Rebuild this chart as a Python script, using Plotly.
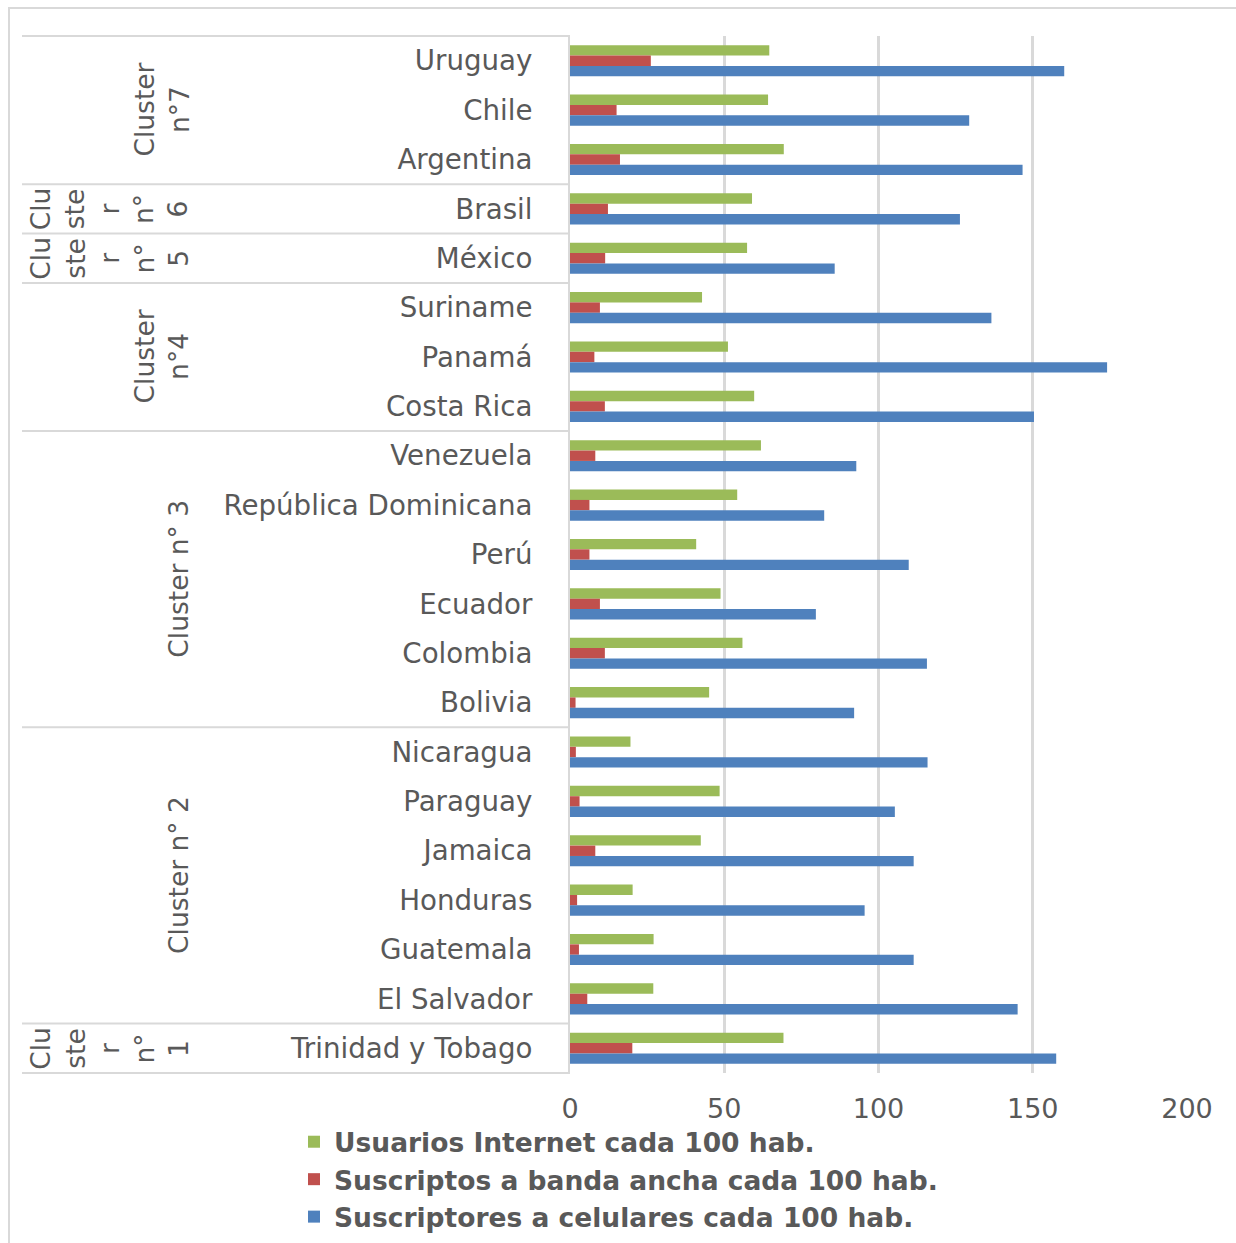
import plotly.graph_objects as go

# ---- data (top-to-bottom as displayed) ----
countries = ["Uruguay", "Chile", "Argentina", "Brasil", "México", "Suriname", "Panamá",
             "Costa Rica", "Venezuela", "República Dominicana", "Perú", "Ecuador",
             "Colombia", "Bolivia", "Nicaragua", "Paraguay", "Jamaica", "Honduras",
             "Guatemala", "El Salvador", "Trinidad y Tobago"]
internet = [64.6, 64.2, 69.3, 59.0, 57.4, 42.8, 51.2, 59.7, 61.9, 54.2, 40.9, 48.8,
            55.9, 45.1, 19.6, 48.5, 42.4, 20.3, 27.1, 27.0, 69.2]
banda = [26.2, 15.1, 16.2, 12.3, 11.4, 9.7, 7.9, 11.3, 8.2, 6.3, 6.3, 9.7,
         11.3, 1.8, 1.9, 3.1, 8.2, 2.3, 2.9, 5.6, 20.2]
celulares = [160.2, 129.4, 146.7, 126.4, 85.8, 136.6, 174.1, 150.4, 92.8, 82.4, 109.8, 79.7,
             115.7, 92.1, 115.9, 105.3, 111.4, 95.5, 111.4, 145.1, 157.6]
cluster_labels = ["Cluster<br>n°7", "Clu<br>ste<br>r<br>n°<br>6", "Clu<br>ste<br>r<br>n°<br>5",
                  "Cluster<br>n°4", "Cluster n° 3", "Cluster n° 2", "Clu<br>ste<br>r<br>n°<br>1"]
cluster_sizes = [3, 1, 1, 3, 6, 6, 1]
series_names = ["Usuarios Internet cada 100 hab.",
                "Suscriptos a banda ancha cada 100 hab.",
                "Suscriptores a celulares cada 100 hab."]
x_ticks = [0, 50, 100, 150, 200]

colors = ["#9BBB59", "#C0504D", "#4F81BD"]
TXT = "#595959"
GRID = "#D9D9D9"
FONT = "DejaVu Sans"
FS = 27

idx = list(range(len(countries)))

fig = go.Figure()
for name, vals, col in zip(series_names, [internet, banda, celulares], colors):
    fig.add_trace(go.Bar(y=idx, x=vals, orientation="h", name=name,
                         marker=dict(color=col, line=dict(width=0))))

W, H = 1236, 1243
L, R, T, B = 570, 49, 36, 170
pw, ph = W - L - R, H - T - B

def px_x(p):
    return (p - L) / pw

def px_y(p):
    return (H - B - p) / ph

shapes = []
# outer chart border (only top and left edges fall inside the canvas)
shapes.append(dict(type="rect", xref="paper", yref="paper",
                   x0=px_x(9), x1=px_x(1270), y0=px_y(1270), y1=px_y(8),
                   line=dict(color=GRID, width=2)))
# category table lines
x_tab = px_x(22)
shapes.append(dict(type="line", xref="paper", yref="y domain", x0=x_tab, x1=0, y0=1, y1=1,
                   line=dict(color=GRID, width=2)))
shapes.append(dict(type="line", xref="paper", yref="y domain", x0=x_tab, x1=0, y0=0, y1=0,
                   line=dict(color=GRID, width=2)))
annotations = []
start = 0
for lab, n in zip(cluster_labels, cluster_sizes):
    end = start + n
    if end < len(countries):
        shapes.append(dict(type="line", xref="paper", yref="y", x0=x_tab, x1=0,
                           y0=end - 0.5, y1=end - 0.5, line=dict(color=GRID, width=2)))
    annotations.append(dict(text=lab, xref="paper", yref="y", x=px_x(196),
                            y=start + (n - 1) / 2, xanchor="right", yanchor="middle",
                            textangle=-90, showarrow=False, align="center",
                            font=dict(family=FONT, size=26.5, color=TXT)))
    start = end

fig.update_layout(
    width=W, height=H, autosize=False,
    margin=dict(l=L, r=R, t=T, b=B, autoexpand=False),
    paper_bgcolor="white", plot_bgcolor="white",
    barmode="group", bargap=0.37, bargroupgap=0,
    font=dict(family=FONT, size=FS, color=TXT),
    xaxis=dict(range=[0, 200], tickvals=x_ticks, showgrid=True, gridcolor=GRID, gridwidth=2.5,
               zeroline=False, showline=False, ticks="", ticklabelstandoff=17,
               tickfont=dict(family=FONT, size=FS, color=TXT), fixedrange=True),
    yaxis=dict(range=[len(countries) - 0.5, -0.5], tickvals=idx, ticktext=countries,
               showgrid=False, zeroline=False, showline=True, linecolor=GRID, linewidth=2,
               ticks="", ticklabelstandoff=30,
               tickfont=dict(family=FONT, size=27.7, color=TXT), fixedrange=True),
    legend=dict(orientation="v", x=px_x(294), xanchor="left", y=px_y(1118), yanchor="top",
                font=dict(family=FONT, size=26.5, color=TXT, weight="bold"),
                bgcolor="rgba(0,0,0,0)", traceorder="normal"),
    shapes=shapes, annotations=annotations,
)

fig.write_html("out.html")
